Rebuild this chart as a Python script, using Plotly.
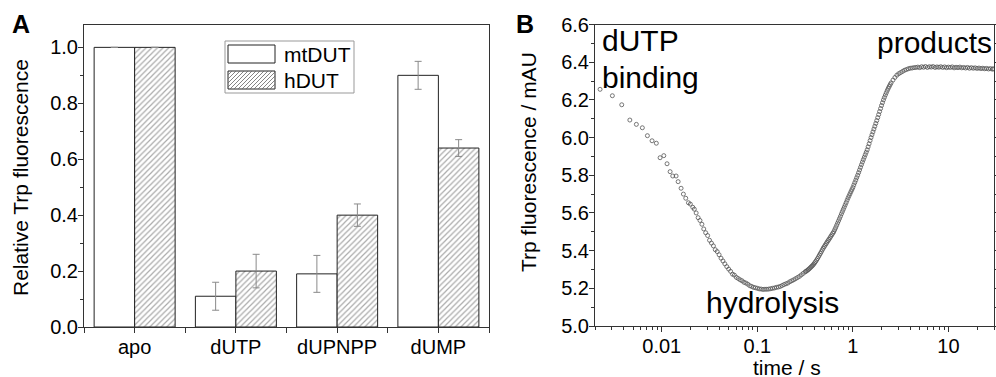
import math
import plotly.graph_objects as go

# ---------------- Panel A data ----------------
categories = ["apo", "dUTP", "dUPNPP", "dUMP"]
mtDUT = [1.0, 0.11, 0.19, 0.90]
mtDUT_err = [0.0, 0.05, 0.066, 0.05]
hDUT = [1.0, 0.20, 0.40, 0.64]
hDUT_err = [0.0, 0.06, 0.04, 0.03]

# ---------------- Panel B data ----------------
time_s = [
    0.00226, 0.00304, 0.00381, 0.00463, 0.00542, 0.00626, 0.00707, 0.00791, 0.00877, 0.00960,
    0.0105, 0.01135, 0.01222, 0.01303, 0.01412, 0.01483, 0.01592, 0.01683, 0.01782, 0.01901,
    0.0199, 0.0211,
    0.0219, 0.0229, 0.0240, 0.0251, 0.0263, 0.0275, 0.0288, 0.0302, 0.0316, 0.0331,
    0.0347, 0.0363, 0.0380, 0.0398, 0.0417, 0.0437, 0.0457, 0.0479, 0.0501, 0.0525,
    0.0550, 0.0575, 0.0603, 0.0631, 0.0661, 0.0692, 0.0724, 0.0759, 0.0794, 0.0832,
    0.0871, 0.0912, 0.0955, 0.100, 0.1047, 0.1096, 0.1148, 0.1202, 0.1259, 0.1318,
    0.1380, 0.1445, 0.1514, 0.1585, 0.1660, 0.1738, 0.1820, 0.1905, 0.1995, 0.2089,
    0.2188, 0.2291, 0.2399, 0.2512, 0.2630, 0.2754, 0.2884, 0.3020, 0.3162,
    0.3236, 0.3311, 0.3388, 0.3467, 0.3548, 0.3631, 0.3715, 0.3802, 0.3890, 0.3981,
    0.4074, 0.4169, 0.4266, 0.4365, 0.4467, 0.4571, 0.4677, 0.4786, 0.4898, 0.5012,
    0.5129, 0.5248, 0.5370, 0.5495, 0.5623, 0.5754, 0.5888, 0.6026, 0.6166, 0.6310,
    0.6457, 0.6607, 0.6761, 0.6918, 0.7079, 0.7244, 0.7413, 0.7586, 0.7762, 0.7943,
    0.8128, 0.8318, 0.8511, 0.8710, 0.8913, 0.9120, 0.9333, 0.9550, 0.9772, 1.000,
    1.023, 1.047, 1.072, 1.096, 1.122, 1.148, 1.175, 1.202, 1.230, 1.259,
    1.288, 1.318, 1.349, 1.380, 1.413, 1.445, 1.479, 1.514, 1.549, 1.585,
    1.622, 1.660, 1.698, 1.738, 1.778, 1.820, 1.862, 1.905, 1.950, 1.995,
    2.042, 2.089, 2.138, 2.188, 2.239, 2.291, 2.344, 2.399, 2.455, 2.512,
    2.630, 2.754, 2.884, 3.020, 3.162, 3.311, 3.467, 3.631, 3.802, 3.981,
    4.169, 4.365, 4.571, 4.786, 5.012, 5.248, 5.495, 5.754, 6.026, 6.310,
    6.607, 6.918, 7.244, 7.586, 7.943, 8.318, 8.710, 9.120, 9.550, 10.00,
    10.47, 10.96, 11.48, 12.02, 12.59, 13.18, 13.80, 14.45, 15.14, 15.85,
    16.60, 17.38, 18.20, 19.05, 19.95, 20.89, 21.88, 22.91, 23.99, 25.12,
    26.30, 27.54, 28.84, 29.6,
]
trp_mAU = [
    6.256, 6.222, 6.174, 6.093, 6.070, 6.052, 6.010, 5.983, 5.970, 5.893,
    5.904, 5.861, 5.819, 5.796, 5.796, 5.766, 5.731, 5.700, 5.678, 5.654,
    5.647, 5.630,
    5.620, 5.600, 5.575, 5.560, 5.540, 5.515, 5.495, 5.480, 5.455, 5.440,
    5.425, 5.405, 5.395, 5.378, 5.360, 5.345, 5.330, 5.315, 5.302, 5.290,
    5.275, 5.270, 5.258, 5.252, 5.245, 5.240, 5.232, 5.228, 5.222, 5.214,
    5.210, 5.205, 5.203, 5.200, 5.197, 5.196, 5.194, 5.195, 5.195, 5.196,
    5.198, 5.200, 5.202, 5.205, 5.207, 5.210, 5.215, 5.220, 5.224, 5.228,
    5.235, 5.240, 5.245, 5.251, 5.257, 5.263, 5.271, 5.279, 5.287,
    5.290, 5.294, 5.298, 5.302, 5.307, 5.312, 5.317, 5.322, 5.328, 5.335,
    5.342, 5.350, 5.358, 5.367, 5.376, 5.385, 5.394, 5.404, 5.413, 5.421,
    5.429, 5.437, 5.445, 5.453, 5.460, 5.468, 5.476, 5.484, 5.492, 5.500,
    5.511, 5.522, 5.534, 5.546, 5.558, 5.570, 5.582, 5.595, 5.607, 5.619,
    5.631, 5.643, 5.655, 5.668, 5.680, 5.691, 5.702, 5.713, 5.724, 5.735,
    5.748, 5.761, 5.774, 5.787, 5.800, 5.814, 5.828, 5.842, 5.856, 5.870,
    5.883, 5.896, 5.909, 5.922, 5.935, 5.951, 5.967, 5.984, 6.000, 6.015,
    6.030, 6.045, 6.060, 6.075, 6.090, 6.106, 6.122, 6.138, 6.154, 6.170,
    6.185, 6.200, 6.213, 6.226, 6.238, 6.250, 6.261, 6.271, 6.281, 6.290,
    6.305, 6.319, 6.331, 6.339, 6.345, 6.351, 6.357, 6.361, 6.365, 6.368,
    6.369, 6.371, 6.372, 6.374, 6.371, 6.376, 6.373, 6.377, 6.372, 6.376,
    6.374, 6.377, 6.372, 6.375, 6.373, 6.376, 6.372, 6.375, 6.371, 6.374,
    6.372, 6.375, 6.370, 6.373, 6.371, 6.374, 6.370, 6.372, 6.369, 6.372,
    6.368, 6.371, 6.368, 6.370, 6.367, 6.369, 6.366, 6.368, 6.365, 6.367,
    6.364, 6.366, 6.363, 6.365,
]

time_ticks = [0.01, 0.1, 1, 10]
time_ticktext = ["0.01", "0.1", "1", "10"]

W, H = 996, 377
FONT = "Arial, Liberation Sans, sans-serif"
AX = "#333333"


def px(x):
    return x / W


def py(y):
    return 1 - y / H


# minor tick positions on the log axis (2..9 within each decade)
log_minor = [m * 10.0 ** e for e in range(-3, 2) for m in range(2, 10)]
log_range = [math.log10(0.002), math.log10(30)]

fig = go.Figure()

fig.add_trace(go.Bar(
    x=list(range(len(categories))), y=mtDUT, name="mtDUT",
    marker=dict(color="white", line=dict(color="#222222", width=1)),
    error_y=dict(type="data", array=mtDUT_err, color="#8a8a8a", thickness=1, width=3.5),
    xaxis="x", yaxis="y", showlegend=False,
))
fig.add_trace(go.Bar(
    x=list(range(len(categories))), y=hDUT, name="hDUT",
    marker=dict(color="white", line=dict(color="#222222", width=1),
                pattern=dict(shape="/", fgcolor="#555555", bgcolor="white", size=4, solidity=0.3)),
    error_y=dict(type="data", array=hDUT_err, color="#8a8a8a", thickness=1, width=3.5),
    xaxis="x", yaxis="y", showlegend=False,
))

fig.add_trace(go.Scatter(
    x=time_s, y=trp_mAU, mode="markers",
    marker=dict(symbol="circle-open", size=4, color="#555555", line=dict(width=0.8, color="#555555")),
    xaxis="x2", yaxis="y2", showlegend=False,
))

tickfont = dict(family=FONT, size=20, color="black")
common = dict(ticks="outside", ticklen=5, tickcolor=AX, showline=True, linecolor=AX, linewidth=1,
              showgrid=False, zeroline=False, tickfont=tickfont, automargin=False)

fig.update_layout(
    width=W, height=H,
    margin=dict(l=0, r=0, t=0, b=0, autoexpand=False),
    paper_bgcolor="white", plot_bgcolor="white",
    barmode="group", bargap=0.2, bargroupgap=0,
    font=dict(family=FONT, size=21, color="black"),
    xaxis=dict(
        domain=[px(84), px(489)], anchor="y", mirror=True,
        range=[-0.5, 3.5], tickvals=list(range(len(categories))), ticktext=categories,
        ticklabelstandoff=-3,
        minor=dict(ticks="outside", ticklen=5, tick0=0.5, dtick=1, tickcolor=AX),
        **common,
    ),
    yaxis=dict(
        domain=[py(327), py(25)], anchor="x", mirror=True,
        range=[0, 1.08], dtick=0.2, tickformat=".1f", ticklabelstandoff=-4,
        minor=dict(ticks="outside", ticklen=3, dtick=0.1, tickcolor=AX),
        **common,
    ),
    xaxis2=dict(
        domain=[px(595), px(994)], anchor="y2", type="log", mirror=True,
        range=log_range, tickvals=time_ticks, ticktext=time_ticktext,
        ticklabelstandoff=-3,
        minor=dict(ticks="outside", ticklen=3, tickmode="array", tickvals=log_minor, tickcolor=AX),
        **common,
    ),
    xaxis3=dict(
        domain=[px(595), px(994)], anchor="y2", overlaying="x2", side="top", type="log",
        range=log_range, tickvals=time_ticks, showticklabels=False,
        ticks="inside", ticklen=5, tickcolor=AX, showline=False, showgrid=False, zeroline=False,
        automargin=False,
        minor=dict(ticks="inside", ticklen=3, tickmode="array", tickvals=log_minor, tickcolor=AX),
    ),
    yaxis2=dict(
        domain=[py(326), py(24.5)], anchor="x2", mirror="allticks",
        range=[5.0, 6.6], dtick=0.2, tickformat=".1f", ticklabelstandoff=-4,
        minor=dict(ticks="outside", ticklen=3, dtick=0.1, tickcolor=AX),
        **common,
    ),
)


def label(text, x, y, size=21, xanchor="center", angle=0, bold=False):
    return dict(text=f"<b>{text}</b>" if bold else text, x=px(x), y=py(y),
                xref="paper", yref="paper", xanchor=xanchor, yanchor="middle",
                textangle=angle, showarrow=False,
                font=dict(family=FONT, size=size, color="black"))


ann = [
    label("A", 21, 24, size=25, bold=True),
    label("B", 525, 24, size=25, bold=True),
    label("Relative Trp fluorescence", 20, 178, angle=-90),
    label("Trp fluorescence / mAU", 528, 162, angle=-90),
    label("time / s", 787, 367),
    label("dUTP", 600, 41, size=30, xanchor="left"),
    label("binding", 600, 78, size=30, xanchor="left"),
    label("products", 994, 43, size=30, xanchor="right"),
    label("hydrolysis", 772, 302, size=30),
    label("mtDUT", 282, 54, xanchor="left"),
    label("hDUT", 282, 80, xanchor="left"),
]

shapes = []
# Legend frame
shapes.append(dict(type="rect", xref="paper", yref="paper", x0=px(225), x1=px(354), y0=py(93), y1=py(41),
                   line=dict(color="#999999", width=1), fillcolor="white", layer="above"))
# Legend swatches
sx0, sx1 = 228, 275
shapes.append(dict(type="rect", xref="paper", yref="paper", x0=px(sx0), x1=px(sx1), y0=py(63), y1=py(45),
                   line=dict(color="#222222", width=1), fillcolor="white", layer="above"))
shapes.append(dict(type="rect", xref="paper", yref="paper", x0=px(sx0), x1=px(sx1), y0=py(89), y1=py(71),
                   line=dict(color="#222222", width=1), fillcolor="white", layer="above"))
# hatch lines inside second swatch
top, bot = 71, 89
hgt = bot - top
path = ""
c = sx0 - hgt
while c < sx1:
    xa, ya = c, bot
    xb, yb = c + hgt, top
    if xa < sx0:
        ya = bot - (sx0 - xa)
        xa = sx0
    if xb > sx1:
        yb = top + (xb - sx1)
        xb = sx1
    if xb > xa:
        path += f"M{px(xa)},{py(ya)} L{px(xb)},{py(yb)} "
    c += 4
shapes.append(dict(type="path", xref="paper", yref="paper", path=path,
                   line=dict(color="#666666", width=0.8), layer="above"))

fig.update_layout(annotations=ann, shapes=shapes)

fig.write_html("out.html", config={"displayModeBar": False},
               post_script="document.body.style.margin='0';")
